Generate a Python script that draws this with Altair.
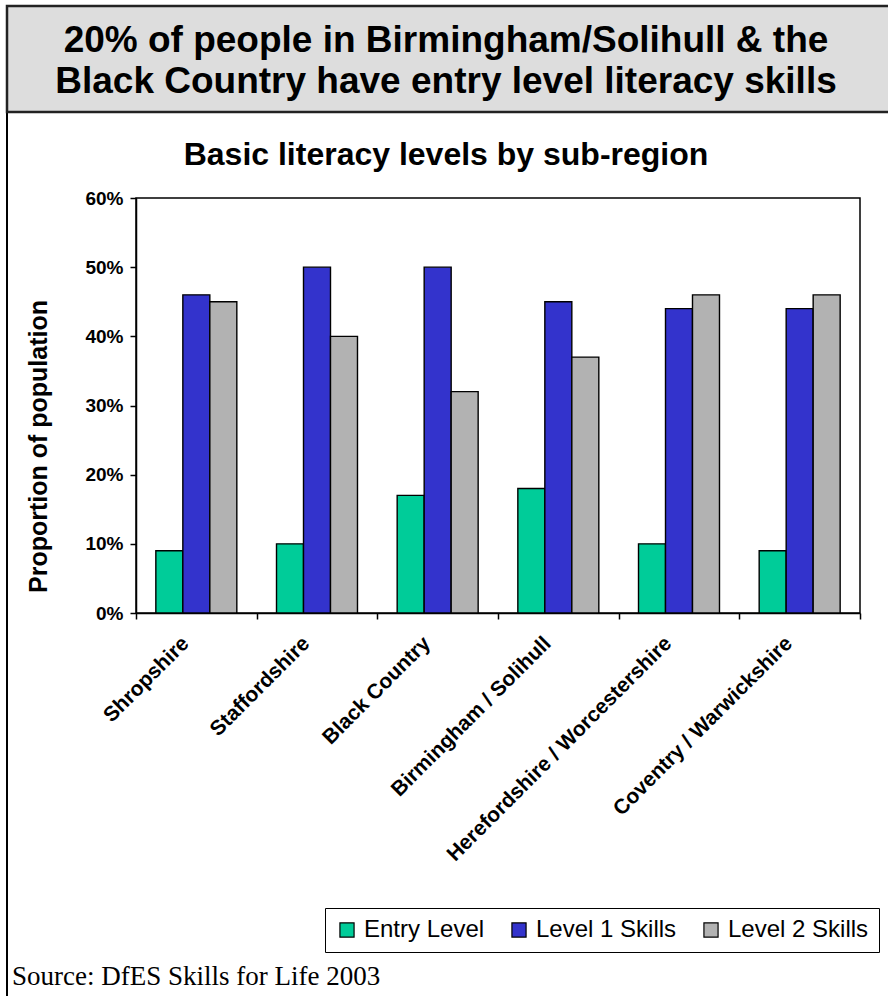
import altair as alt
import pandas as pd

regions = ["Shropshire", "Staffordshire", "Black Country", "Birmingham / Solihull",
           "Herefordshire / Worcestershire", "Coventry / Warwickshire"]
series = ["Entry Level", "Level 1 Skills", "Level 2 Skills"]
entry_level = [9, 10, 17, 18, 10, 9]
level_1 = [46, 50, 50, 45, 44, 44]
level_2 = [45, 40, 32, 37, 46, 46]
colors = ["#00CC99", "#3333CC", "#B2B2B2"]
y_ticks = [0, 10, 20, 30, 40, 50, 60]
title_lines = ["20% of people in Birmingham/Solihull & the",
               "Black Country have entry level literacy skills"]
subtitle = "Basic literacy levels by sub-region"
source = ["Source: DfES Skills for Life 2003"]

rows = []
for name, vals in zip(series, [entry_level, level_1, level_2]):
    for r, v in zip(regions, vals):
        rows.append({"region": r, "series": name, "value": v})
df = pd.DataFrame(rows)

W, H = 724, 415
FONT = "Liberation Sans"

frame = alt.Chart(pd.DataFrame({"k": [0]})).mark_rect(
    fill=None, stroke="black", strokeWidth=2
).encode(x=alt.value(-129), x2=alt.value(770), y=alt.value(-192), y2=alt.value(830))

title_box = alt.Chart(pd.DataFrame({"k": [0]})).mark_rect(
    fill="#DDDDDD", stroke="#222222", strokeWidth=2.5
).encode(x=alt.value(-129), x2=alt.value(770), y=alt.value(-192), y2=alt.value(-86))

bars = alt.Chart(df).mark_bar(stroke="black", strokeWidth=1.4).encode(
    x=alt.X("region:N", sort=regions,
            scale=alt.Scale(paddingInner=0, paddingOuter=0),
            axis=alt.Axis(title=None, labelAngle=-45, tickBand="extent",
                          labelAlign="right", labelBaseline="middle", labelLimit=0,
                          labelFont=FONT, labelFontWeight="bold", labelFontSize=21,
                          labelColor="black", domainColor="black", domainWidth=1.5,
                          tickColor="black", tickWidth=1.5, tickSize=6,
                          labelPadding=21, labelOffset=-11)),
    xOffset=alt.XOffset("series:N", sort=series,
                        scale=alt.Scale(paddingInner=0, paddingOuter=0.735)),
    y=alt.Y("value:Q", scale=alt.Scale(domain=[0, 60]),
            axis=alt.Axis(values=y_ticks, labelExpr="datum.value + '%'",
                          grid=False, title="Proportion of population",
                          titleFont=FONT, titleFontSize=25, titleFontWeight="bold",
                          titleColor="black", titleAngle=-90, titleX=-98, titleY=248,
                          titleAlign="center", titleBaseline="middle",
                          labelFont=FONT, labelFontWeight="bold", labelFontSize=19,
                          labelColor="black", labelPadding=7,
                          domainColor="black", domainWidth=1.5,
                          tickColor="black", tickWidth=1.5, tickSize=6)),
    color=alt.Color("series:N", sort=series,
                    scale=alt.Scale(domain=series, range=colors),
                    legend=alt.Legend(title=None, orient="none", direction="horizontal",
                                      legendX=189, legendY=710,
                                      strokeColor="black", padding=10,
                                      symbolType="square", symbolSize=200,
                                      symbolStrokeColor="black", symbolStrokeWidth=1.2,
                                      symbolOpacity=1,
                                      labelFont=FONT, labelFontSize=24,
                                      labelColor="black", labelOffset=5,
                                      columnPadding=22)),
)

src = alt.Chart(pd.DataFrame({"t": source})).mark_text(
    font="Liberation Serif", fontSize=27, align="left", baseline="alphabetic", color="black"
).encode(text="t:N", x=alt.value(-124), y=alt.value(787))

chart = alt.layer(frame, title_box, bars, src).properties(
    width=W, height=H,
    padding={"left": 136, "top": 198, "right": 28, "bottom": 383},
    autosize=alt.AutoSizeParams(type="none"),
    title=alt.TitleParams(
        text=title_lines, subtitle=subtitle,
        font=FONT, fontSize=37, fontWeight="bold", color="black", lineHeight=41,
        subtitleFont=FONT, subtitleFontSize=32, subtitleFontWeight="bold",
        subtitleColor="black", subtitlePadding=39,
        anchor="middle", dx=-52, dy=167, offset=0),
).configure_view(stroke="black", strokeWidth=1.5)

chart.save("out.html", embed_options={"renderer": "svg", "actions": False})
